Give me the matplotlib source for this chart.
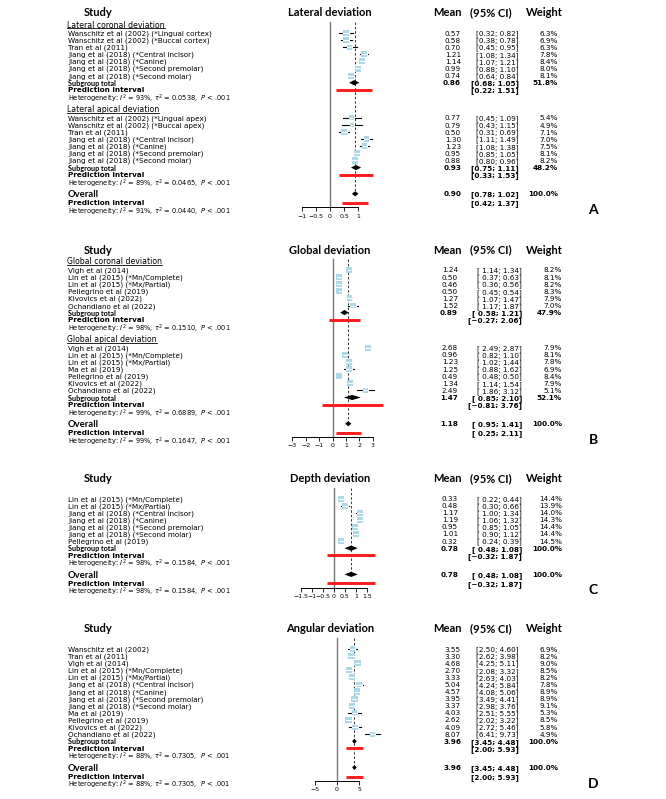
import matplotlib
matplotlib.use("Agg")
import matplotlib.pyplot as plt
from matplotlib.patches import Rectangle
from matplotlib.lines import Line2D

W, H = 666, 799

plt.rcParams["font.family"] = ["DejaVu Sans"]
plt.rcParams["mathtext.fontset"] = "dejavusans"

# ---------------- A: lateral deviation ----------------
lat_cor_studies = ["Wanschitz et al (2002) (*Lingual cortex)",
                   "Wanschitz et al (2002) (*Buccal cortex)",
                   "Tran et al (2011)",
                   "Jiang et al (2018) (*Central incisor)",
                   "Jiang et al (2018) (*Canine)",
                   "Jiang et al (2018) (*Second premolar)",
                   "Jiang et al (2018) (*Second molar)"]
lat_cor_mean = [0.57, 0.58, 0.70, 1.21, 1.14, 0.99, 0.74]
lat_cor_lo = [0.32, 0.38, 0.45, 1.08, 1.07, 0.88, 0.64]
lat_cor_hi = [0.82, 0.78, 0.95, 1.34, 1.21, 1.10, 0.84]
lat_cor_w = [6.3, 6.9, 6.3, 7.8, 8.4, 8.0, 8.1]
lat_cor_total = [0.86, 0.68, 1.05, 51.8]
lat_cor_pi = [0.22, 1.51]
lat_cor_het = [93, 0.0538]

lat_api_studies = ["Wanschitz et al (2002) (*Lingual apex)",
                   "Wanschitz et al (2002) (*Buccal apex)",
                   "Tran et al (2011)",
                   "Jiang et al (2018) (*Central incisor)",
                   "Jiang et al (2018) (*Canine)",
                   "Jiang et al (2018) (*Second premolar)",
                   "Jiang et al (2018) (*Second molar)"]
lat_api_mean = [0.77, 0.79, 0.50, 1.30, 1.23, 0.95, 0.88]
lat_api_lo = [0.45, 0.43, 0.31, 1.11, 1.08, 0.85, 0.80]
lat_api_hi = [1.09, 1.15, 0.69, 1.49, 1.38, 1.05, 0.96]
lat_api_w = [5.4, 4.9, 7.1, 7.0, 7.5, 8.1, 8.2]
lat_api_total = [0.93, 0.75, 1.11, 48.2]
lat_api_pi = [0.33, 1.53]
lat_api_het = [89, 0.0465]

lat_overall = [0.90, 0.78, 1.02, 100.0]
lat_overall_pi = [0.42, 1.37]
lat_overall_het = [91, 0.0440]

# ---------------- B: global deviation ----------------
glo_cor_studies = ["Vigh et al (2014)",
                   "Lin et al (2015) (*Mn/Complete)",
                   "Lin et al (2015) (*Mx/Partial)",
                   "Pellegrino et al (2019)",
                   "Kivovics et al (2022)",
                   "Ochandiano et al (2022)"]
glo_cor_mean = [1.24, 0.50, 0.46, 0.50, 1.27, 1.52]
glo_cor_lo = [1.14, 0.37, 0.36, 0.45, 1.07, 1.17]
glo_cor_hi = [1.34, 0.63, 0.56, 0.54, 1.47, 1.87]
glo_cor_w = [8.2, 8.1, 8.2, 8.3, 7.9, 7.0]
glo_cor_total = [0.89, 0.58, 1.21, 47.9]
glo_cor_pi = [-0.27, 2.06]
glo_cor_het = [98, 0.1510]

glo_api_studies = ["Vigh et al (2014)",
                   "Lin et al (2015) (*Mn/Complete)",
                   "Lin et al (2015) (*Mx/Partial)",
                   "Ma et al (2019)",
                   "Pellegrino et al (2019)",
                   "Kivovics et al (2022)",
                   "Ochandiano et al (2022)"]
glo_api_mean = [2.68, 0.96, 1.23, 1.25, 0.49, 1.34, 2.49]
glo_api_lo = [2.49, 0.82, 1.02, 0.88, 0.48, 1.14, 1.86]
glo_api_hi = [2.87, 1.10, 1.44, 1.62, 0.50, 1.54, 3.12]
glo_api_w = [7.9, 8.1, 7.8, 6.9, 8.4, 7.9, 5.1]
glo_api_total = [1.47, 0.85, 2.10, 52.1]
glo_api_pi = [-0.81, 3.76]
glo_api_het = [99, 0.6889]

glo_overall = [1.18, 0.95, 1.41, 100.0]
glo_overall_pi = [0.25, 2.11]
glo_overall_het = [99, 0.1647]

# ---------------- C: depth deviation ----------------
dep_studies = ["Lin et al (2015) (*Mn/Complete)",
               "Lin et al (2015) (*Mx/Partial)",
               "Jiang et al (2018) (*Central incisor)",
               "Jiang et al (2018) (*Canine)",
               "Jiang et al (2018) (*Second premolar)",
               "Jiang et al (2018) (*Second molar)",
               "Pellegrino et al (2019)"]
dep_mean = [0.33, 0.48, 1.17, 1.19, 0.95, 1.01, 0.32]
dep_lo = [0.22, 0.30, 1.00, 1.06, 0.85, 0.90, 0.24]
dep_hi = [0.44, 0.66, 1.34, 1.32, 1.05, 1.12, 0.39]
dep_w = [14.4, 13.9, 14.0, 14.3, 14.4, 14.4, 14.5]
dep_total = [0.78, 0.48, 1.08, 100.0]
dep_pi = [-0.32, 1.87]
dep_het = [98, 0.1584]

# ---------------- D: angular deviation ----------------
ang_studies = ["Wanschitz et al (2002)",
               "Tran et al (2011)",
               "Vigh et al (2014)",
               "Lin et al (2015) (*Mn/Complete)",
               "Lin et al (2015) (*Mx/Partial)",
               "Jiang et al (2018) (*Central incisor)",
               "Jiang et al (2018) (*Canine)",
               "Jiang et al (2018) (*Second premolar)",
               "Jiang et al (2018) (*Second molar)",
               "Ma et al (2019)",
               "Pellegrino et al (2019)",
               "Kivovics et al (2022)",
               "Ochandiano et al (2022)"]
ang_mean = [3.55, 3.30, 4.68, 2.70, 3.33, 5.04, 4.57, 3.95, 3.37, 4.03, 2.62, 4.09, 8.07]
ang_lo = [2.50, 2.62, 4.25, 2.08, 2.63, 4.24, 4.08, 3.49, 2.98, 2.51, 2.02, 2.72, 6.41]
ang_hi = [4.60, 3.98, 5.11, 3.32, 4.03, 5.84, 5.06, 4.41, 3.76, 5.55, 3.22, 5.46, 9.73]
ang_w = [6.9, 8.2, 9.0, 8.5, 8.2, 7.8, 8.9, 8.9, 9.1, 5.3, 8.5, 5.8, 4.9]
ang_total = [3.96, 3.45, 4.48, 100.0]
ang_pi = [2.00, 5.93]
ang_het = [88, 0.7305]


fig = plt.figure(figsize=(W / 100, H / 100), dpi=100)

STEP = 7.1
TXT = 5.2
HET = 4.8
LATO = ["Lato", "DejaVu Sans"]
underlined = []


def ftxt(x, y, s, **kw):
    kw.setdefault("va", "center_baseline")
    return fig.text(x / W, 1 - y / H, s, **kw)


def num(v, pad):
    s = f"{v:.2f}".replace("-", "\u2212")
    if pad and v >= 0:
        s = " " + s
    return s


def ci_str(lo, hi, pad):
    return f"[{num(lo, pad)}; {hi:.2f}]"


def het_str(het):
    return (rf"Heterogeneity: $I^2$ = {het[0]}%, $\tau^2$ = {het[1]:.4f},"
            rf"  $P$ < .001")


def draw_panel(top, title, letter, groups, overall, x0, scale, ticks,
               ticklabels, cols, pad):
    mean_r, ci_r, w_r = cols
    # row positions (pixels from the top)
    rows = []
    y = top + 12
    for g in groups:
        first = y + 9 if g[0] else top + 21
        ys = [first + STEP * i for i in range(len(g[1]))]
        sub_y = ys[-1] + STEP
        rows.append((y, ys, sub_y, sub_y + STEP, sub_y + 2 * STEP))
        y = sub_y + 2 * STEP + 12
    ov_y = y
    axis_y = ov_y + 13.5

    # headers
    hdr = dict(family=LATO, fontweight="bold", fontsize=8, ha="center")
    ftxt(98, top, "Study", **hdr)
    ftxt(330, top, title, **hdr)
    ftxt(447, top, "Mean", **hdr)
    ftxt(491, top, "(95% CI)", **hdr)
    ftxt(544, top, "Weight", **hdr)
    ftxt(593, ov_y + 15, letter, family=LATO, fontweight="bold",
         fontsize=10, ha="center")

    ax = fig.add_axes([265 / W, 1 - axis_y / H, 135 / W,
                       (axis_y - (top + 5)) / H])
    ax.set_xlim((265 - x0) / scale, (400 - x0) / scale)
    ax.set_ylim(axis_y, top + 5)
    ax.patch.set_visible(False)
    for sp in ["top", "left", "right"]:
        ax.spines[sp].set_visible(False)
    ax.spines["bottom"].set_bounds(ticks[0], ticks[-1])
    ax.spines["bottom"].set_linewidth(0.7)
    ax.set_yticks([])
    ax.set_xticks(ticks)
    ax.set_xticklabels(ticklabels, fontsize=4.5)
    ax.tick_params(axis="x", length=3, width=0.6, pad=1.5)

    # reference lines
    ax.plot([0, 0], [top + 10, axis_y], color="#777777", lw=1.0, zorder=1)
    ax.plot([overall[0], overall[0]], [top + 10, ov_y], color="#333333",
            lw=0.7, ls=(0, (2.5, 2)), zorder=1)

    def diamond(m, lo, hi, yy):
        ax.fill([lo, m, hi, m], [yy, yy - 2.6, yy, yy + 2.6], color="black",
                lw=0, zorder=4)

    def pi_line(lo, hi, yy):
        ax.plot([lo, hi], [yy, yy], color="#ff1a1a", lw=2.1,
                solid_capstyle="butt", zorder=3)

    bold = dict(fontsize=TXT, fontweight="bold", ha="right")
    for g, (lab_y, ys, sub_y, pi_y, het_y) in zip(groups, rows):
        label, studies, mean, lo, hi, w, total, pi, het = g
        if label:
            t = ftxt(67, lab_y, label, fontsize=5.6)
            underlined.append((t, lab_y))
        for s, m, l, h, wt, yy in zip(studies, mean, lo, hi, w, ys):
            ftxt(68, yy, s, fontsize=TXT)
            ftxt(mean_r, yy, f"{m:.2f}", fontsize=TXT, ha="right")
            ftxt(ci_r, yy, ci_str(l, h, pad), fontsize=TXT, ha="right")
            ftxt(w_r, yy, f"{wt:.1f}%", fontsize=TXT, ha="right")
            side = 6.0 * (wt / 8.0) ** 0.5 if wt < 12 else 6.0
            half = side / 2 / scale
            ax.plot([l, h], [yy, yy], color="black", lw=0.8, zorder=2)
            ax.add_patch(Rectangle((m - half, yy - side / 2), 2 * half, side,
                                   facecolor="#add8e6", edgecolor="none",
                                   zorder=3))
            il, ih = max(l, m - half), min(h, m + half)
            if ih > il:
                ax.plot([il, ih], [yy, yy], color="white", lw=0.8, zorder=3.5)
        # subgroup total
        ftxt(68, sub_y, "Subgroup total", family=LATO, fontweight="bold",
             fontsize=5.2)
        ftxt(mean_r, sub_y, f"{total[0]:.2f}", **bold)
        ftxt(ci_r, sub_y, ci_str(total[1], total[2], pad), **bold)
        ftxt(w_r, sub_y, f"{total[3]:.1f}%", **bold)
        diamond(total[0], total[1], total[2], sub_y)
        ftxt(68, pi_y, "Prediction interval", fontsize=TXT, fontweight="bold")
        ftxt(ci_r, pi_y, ci_str(pi[0], pi[1], pad), **bold)
        pi_line(pi[0], pi[1], pi_y)
        ftxt(68, het_y, het_str(het), fontsize=HET)

    return dict(ax=ax, ov_y=ov_y, diamond=diamond, pi_line=pi_line,
                cols=cols, pad=pad)


def draw_overall(res, overall, opi, ohet):
    mean_r, ci_r, w_r = res["cols"]
    pad = res["pad"]
    ov_y = res["ov_y"]
    ov_pi_y = ov_y + 9
    ov_het_y = ov_pi_y + 7
    bold = dict(fontsize=TXT, fontweight="bold", ha="right")
    ftxt(68, ov_y, "Overall", family=LATO, fontweight="bold", fontsize=6.8)
    ftxt(mean_r, ov_y, f"{overall[0]:.2f}", **bold)
    ftxt(ci_r, ov_y, ci_str(overall[1], overall[2], pad), **bold)
    ftxt(w_r, ov_y, f"{overall[3]:.1f}%", **bold)
    res["diamond"](overall[0], overall[1], overall[2], ov_y)
    ftxt(68, ov_pi_y, "Prediction interval", fontsize=TXT, fontweight="bold")
    ftxt(ci_r, ov_pi_y, ci_str(opi[0], opi[1], pad), **bold)
    res["pi_line"](opi[0], opi[1], ov_pi_y)
    ftxt(68, ov_het_y, het_str(ohet), fontsize=HET)


# panel A
resA = draw_panel(
    12, "Lateral deviation", "A",
    [("Lateral coronal deviation", lat_cor_studies, lat_cor_mean, lat_cor_lo,
      lat_cor_hi, lat_cor_w, lat_cor_total, lat_cor_pi, lat_cor_het),
     ("Lateral apical deviation", lat_api_studies, lat_api_mean, lat_api_lo,
      lat_api_hi, lat_api_w, lat_api_total, lat_api_pi, lat_api_het)],
    lat_overall, 330, 28, [-1, -0.5, 0, 0.5, 1],
    ["\u22121", "\u22120.5", "0", "0.5", "1"], (461, 519, 558), False)
draw_overall(resA, lat_overall, lat_overall_pi, lat_overall_het)

# panel B
resB = draw_panel(
    249, "Global deviation", "B",
    [("Global coronal deviation", glo_cor_studies, glo_cor_mean, glo_cor_lo,
      glo_cor_hi, glo_cor_w, glo_cor_total, glo_cor_pi, glo_cor_het),
     ("Global apical deviation", glo_api_studies, glo_api_mean, glo_api_lo,
      glo_api_hi, glo_api_w, glo_api_total, glo_api_pi, glo_api_het)],
    glo_overall, 332.5, 13.4, [-3, -2, -1, 0, 1, 2, 3],
    ["\u22123", "\u22122", "\u22121", "0", "1", "2", "3"],
    (458, 522, 562), True)
draw_overall(resB, glo_overall, glo_overall_pi, glo_overall_het)

# panel C
resC = draw_panel(
    477.5, "Depth deviation", "C",
    [(None, dep_studies, dep_mean, dep_lo, dep_hi, dep_w, dep_total, dep_pi,
      dep_het)],
    dep_total, 334, 22, [-1.5, -1, -0.5, 0, 0.5, 1, 1.5],
    ["\u22121.5", "\u22121", "\u22120.5", "0", "0.5", "1", "1.5"],
    (458, 522, 562), True)
draw_overall(resC, dep_total, dep_pi, dep_het)

# panel D
resD = draw_panel(
    628, "Angular deviation", "D",
    [(None, ang_studies, ang_mean, ang_lo, ang_hi, ang_w, ang_total, ang_pi,
      ang_het)],
    ang_total, 337, 4.4, [-5, 0, 5], ["\u22125", "0", "5"],
    (461, 519, 558), False)
draw_overall(resD, ang_total, ang_pi, ang_het)

# underline the subgroup labels
fig.canvas.draw()
rend = fig.canvas.get_renderer()
for t, yy in underlined:
    bb = t.get_window_extent(rend)
    fig.add_artist(Line2D([bb.x0 / W, bb.x1 / W],
                          [1 - (yy + 4.0) / H, 1 - (yy + 4.0) / H],
                          transform=fig.transFigure, color="black", lw=0.6))

fig.savefig("out.png", dpi=100)
